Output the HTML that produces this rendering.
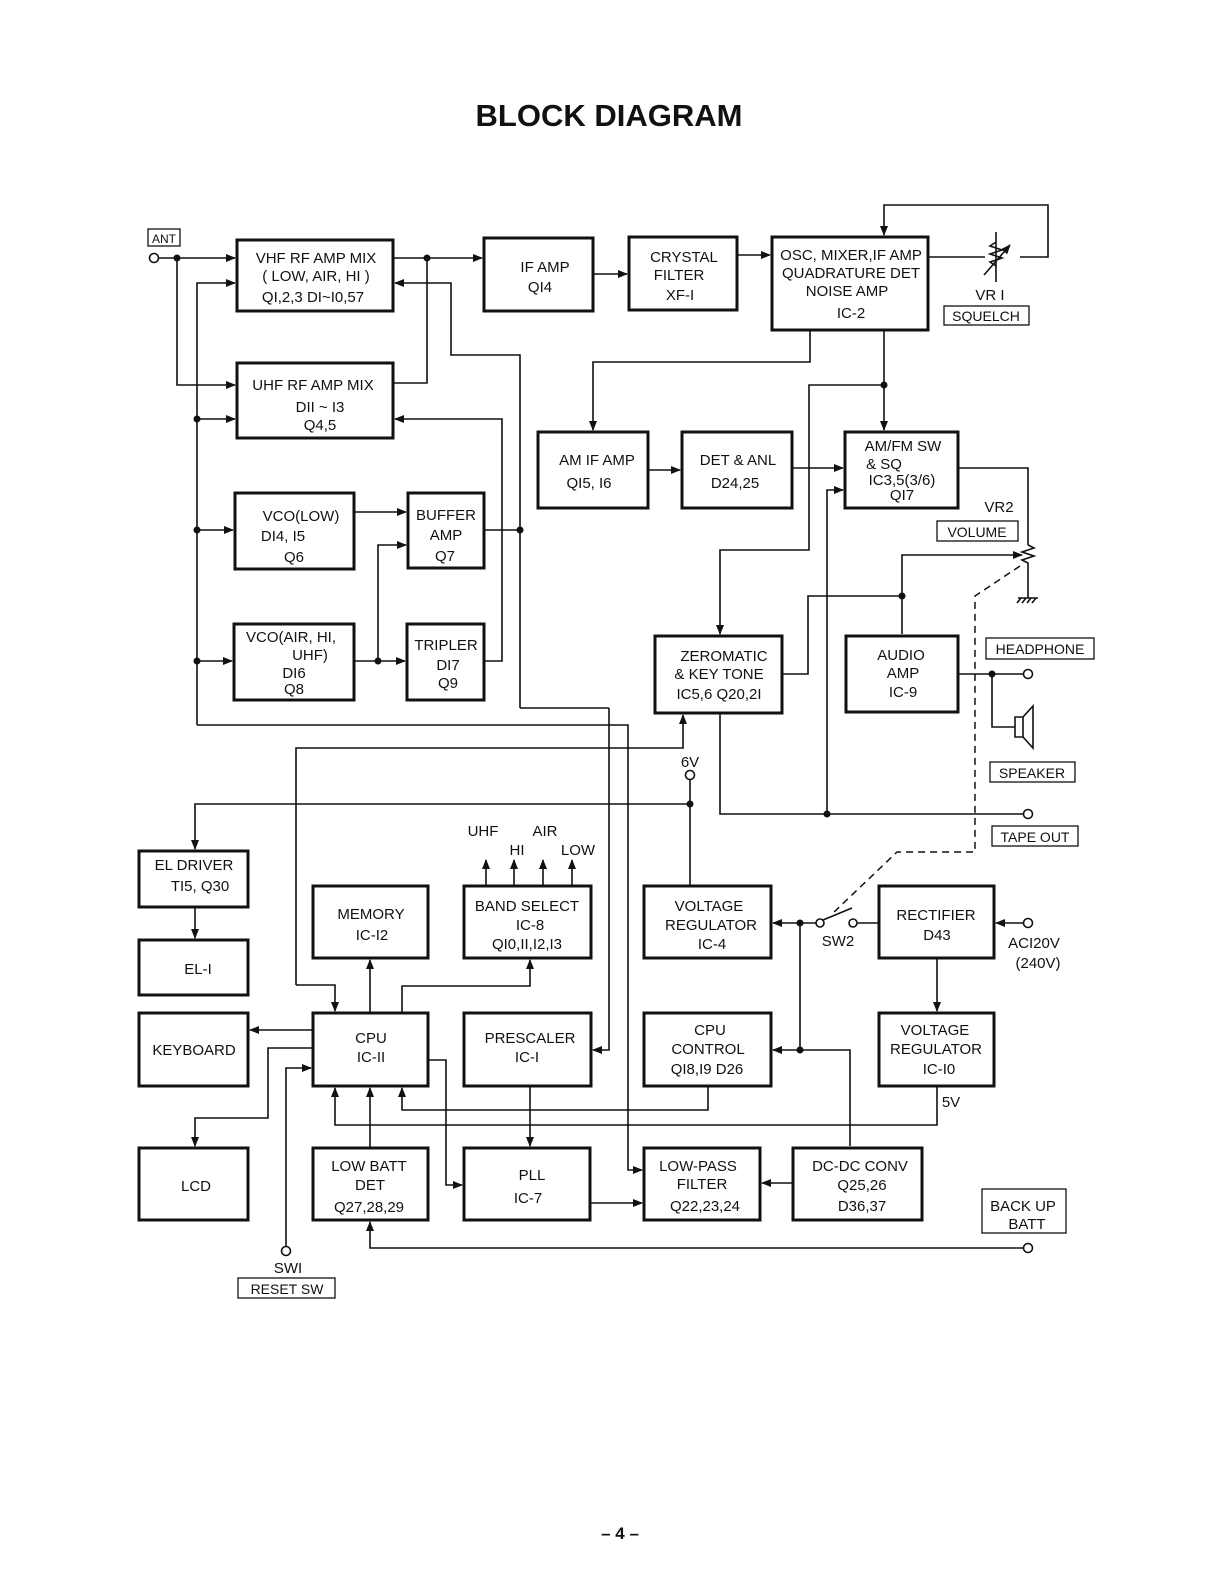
<!DOCTYPE html>
<html><head><meta charset="utf-8"><style>
html,body{margin:0;padding:0;background:#fff;width:1224px;height:1584px;overflow:hidden}
svg{display:block;position:absolute;left:0;top:0}
text{font-family:"Liberation Sans",sans-serif;font-size:15px;fill:#111;text-anchor:middle}
.b{fill:none;stroke:#111;stroke-width:3}
.l{fill:none;stroke:#111;stroke-width:1.6}
.t{fill:none;stroke:#111;stroke-width:1.3}
.d{fill:none;stroke:#111;stroke-width:1.5;stroke-dasharray:7 5}
</style></head><body>
<svg width="1224" height="1584" viewBox="0 0 1224 1584" xmlns="http://www.w3.org/2000/svg">
<defs><marker id="a" markerWidth="10" markerHeight="8" refX="9" refY="4" orient="auto" markerUnits="userSpaceOnUse"><path d="M0,0 L10,4 L0,8z" fill="#111"/></marker></defs>
<text x="609" y="126" style="font-size:31px;font-weight:bold">BLOCK DIAGRAM</text>

<g class="b">
<rect x="237" y="240" width="156" height="71"/>
<rect x="484" y="238" width="109" height="73"/>
<rect x="629" y="237" width="108" height="73"/>
<rect x="772" y="237" width="156" height="93"/>
<rect x="237" y="363" width="156" height="75"/>
<rect x="538" y="432" width="110" height="76"/>
<rect x="682" y="432" width="110" height="76"/>
<rect x="845" y="432" width="113" height="76"/>
<rect x="235" y="493" width="119" height="76"/>
<rect x="408" y="493" width="76" height="75"/>
<rect x="234" y="624" width="120" height="76"/>
<rect x="407" y="624" width="77" height="76"/>
<rect x="655" y="636" width="127" height="77"/>
<rect x="846" y="636" width="112" height="76"/>
<rect x="139" y="851" width="109" height="56"/>
<rect x="313" y="886" width="115" height="72"/>
<rect x="464" y="886" width="127" height="72"/>
<rect x="644" y="886" width="127" height="72"/>
<rect x="879" y="886" width="115" height="72"/>
<rect x="139" y="940" width="109" height="55"/>
<rect x="139" y="1013" width="109" height="73"/>
<rect x="313" y="1013" width="115" height="73"/>
<rect x="464" y="1013" width="127" height="73"/>
<rect x="644" y="1013" width="127" height="73"/>
<rect x="879" y="1013" width="115" height="73"/>
<rect x="139" y="1148" width="109" height="72"/>
<rect x="313" y="1148" width="115" height="72"/>
<rect x="464" y="1148" width="126" height="72"/>
<rect x="644" y="1148" width="116" height="72"/>
<rect x="793" y="1148" width="129" height="72"/>
</g>
<g class="t">
<rect x="148" y="229" width="32" height="17"/>
<rect x="944" y="306" width="85" height="19"/>
<rect x="937" y="521" width="81" height="20"/>
<rect x="986" y="638" width="108" height="21"/>
<rect x="990" y="762" width="85" height="20"/>
<rect x="992" y="826" width="86" height="20"/>
<rect x="982" y="1189" width="84" height="44"/>
<rect x="238" y="1278" width="97" height="20"/>
</g>

<text x="316" y="263">VHF RF AMP MIX</text><text x="316" y="281">( LOW, AIR, HI )</text><text x="313" y="302">QI,2,3  DI~I0,57</text>
<text x="545" y="272">IF AMP</text><text x="540" y="292">QI4</text>
<text x="684" y="262">CRYSTAL</text><text x="679" y="280">FILTER</text><text x="680" y="300">XF-I</text>
<text x="851" y="260">OSC, MIXER,IF AMP</text><text x="851" y="278">QUADRATURE DET</text><text x="847" y="296">NOISE   AMP</text><text x="851" y="318">IC-2</text>
<text x="313" y="390">UHF RF AMP MIX</text><text x="320" y="412">DII ~ I3</text><text x="320" y="430">Q4,5</text>
<text x="597" y="465">AM IF AMP</text><text x="589" y="488">QI5, I6</text>
<text x="738" y="465">DET &amp; ANL</text><text x="735" y="488">D24,25</text>
<text x="903" y="451">AM/FM SW</text><text x="884" y="469">&amp; SQ</text><text x="902" y="485">IC3,5(3/6)</text><text x="902" y="500">QI7</text>
<text x="301" y="521">VCO(LOW)</text><text x="283" y="541">DI4, I5</text><text x="294" y="562">Q6</text>
<text x="446" y="520">BUFFER</text><text x="446" y="540">AMP</text><text x="445" y="561">Q7</text>
<text x="291" y="642">VCO(AIR, HI,</text><text x="310" y="660">UHF)</text><text x="294" y="678">DI6</text><text x="294" y="694">Q8</text>
<text x="446" y="650">TRIPLER</text><text x="448" y="670">DI7</text><text x="448" y="688">Q9</text>
<text x="724" y="661">ZEROMATIC</text><text x="719" y="679">&amp; KEY  TONE</text><text x="719" y="699">IC5,6  Q20,2I</text>
<text x="901" y="660">AUDIO</text><text x="903" y="678">AMP</text><text x="903" y="697">IC-9</text>
<text x="990" y="300">VR I</text><text x="986" y="321" style="font-size:14px">SQUELCH</text>
<text x="999" y="512">VR2</text><text x="977" y="537" style="font-size:14px">VOLUME</text>
<text x="1040" y="654" style="font-size:14px">HEADPHONE</text>
<text x="1032" y="778" style="font-size:14px">SPEAKER</text>
<text x="1035" y="842" style="font-size:14px">TAPE OUT</text>
<text x="164" y="243" style="font-size:12px">ANT</text>
<text x="690" y="767">6V</text>
<text x="483" y="836">UHF</text><text x="545" y="836">AIR</text><text x="517" y="855">HI</text><text x="578" y="855">LOW</text>
<text x="194" y="870">EL  DRIVER</text><text x="200" y="891">TI5, Q30</text>
<text x="198" y="974">EL-I</text>
<text x="194" y="1055">KEYBOARD</text>
<text x="196" y="1191">LCD</text>
<text x="371" y="919">MEMORY</text><text x="372" y="940">IC-I2</text>
<text x="527" y="911">BAND SELECT</text><text x="530" y="930">IC-8</text><text x="527" y="949">QI0,II,I2,I3</text>
<text x="709" y="911">VOLTAGE</text><text x="711" y="930">REGULATOR</text><text x="712" y="949">IC-4</text>
<text x="936" y="920">RECTIFIER</text><text x="937" y="940">D43</text>
<text x="838" y="946">SW2</text>
<text x="1034" y="948">ACI20V</text><text x="1038" y="968">(240V)</text>
<text x="371" y="1043">CPU</text><text x="371" y="1062">IC-II</text>
<text x="530" y="1043">PRESCALER</text><text x="527" y="1062">IC-I</text>
<text x="710" y="1035">CPU</text><text x="708" y="1054">CONTROL</text><text x="707" y="1074">QI8,I9   D26</text>
<text x="935" y="1035">VOLTAGE</text><text x="936" y="1054">REGULATOR</text><text x="939" y="1074">IC-I0</text>
<text x="951" y="1107">5V</text>
<text x="369" y="1171">LOW  BATT</text><text x="370" y="1190">DET</text><text x="369" y="1212">Q27,28,29</text>
<text x="532" y="1180">PLL</text><text x="528" y="1203">IC-7</text>
<text x="698" y="1171">LOW-PASS</text><text x="702" y="1189">FILTER</text><text x="705" y="1211">Q22,23,24</text>
<text x="860" y="1171">DC-DC  CONV</text><text x="862" y="1190">Q25,26</text><text x="862" y="1211">D36,37</text>
<text x="1023" y="1211">BACK UP</text><text x="1027" y="1229">BATT</text>
<text x="288" y="1273">SWI</text><text x="287" y="1294" style="font-size:14px">RESET SW</text>
<text x="620" y="1539" style="font-size:17px;font-weight:bold">– 4 –</text>

<g class="l">
<path d="M158,258H235" marker-end="url(#a)"/>
<path d="M177,258V385H235" marker-end="url(#a)"/>
<path d="M197,725V283H235" marker-end="url(#a)"/>
<path d="M197,419H235" marker-end="url(#a)"/>
<path d="M197,530H233" marker-end="url(#a)"/>
<path d="M197,661H232" marker-end="url(#a)"/>
<path d="M197,725H628V1170H642" marker-end="url(#a)"/>
<path d="M393,258H482" marker-end="url(#a)"/>
<path d="M427,258V383H393"/>
<path d="M609,708V1050H593" marker-end="url(#a)"/>
<path d="M520,708H609"/>
<path d="M520,708V355H451V283H395" marker-end="url(#a)"/>
<path d="M484,530H520"/>
<path d="M484,661H502V419H395" marker-end="url(#a)"/>
<path d="M354,512H406" marker-end="url(#a)"/>
<path d="M354,661H405" marker-end="url(#a)"/>
<path d="M378,661V545H406" marker-end="url(#a)"/>
<path d="M593,274H627" marker-end="url(#a)"/>
<path d="M737,255H770" marker-end="url(#a)"/>
<path d="M1020,257H1048V205H884V235" marker-end="url(#a)"/>
<path d="M928,257H985"/>
<path d="M996,232V282"/>
<path d="M996,242l-6,4l12,4l-12,4l12,4l-12,4l6,4"/>
<path d="M984,275L1010,245" marker-end="url(#a)"/>
<path d="M810,330V362H593V430" marker-end="url(#a)"/>
<path d="M884,330V430" marker-end="url(#a)"/>
<path d="M884,385H809V550H720V634" marker-end="url(#a)"/>
<path d="M648,470H680" marker-end="url(#a)"/>
<path d="M792,468H843" marker-end="url(#a)"/>
<path d="M827,814V490H843" marker-end="url(#a)"/>
<path d="M720,713V814H1024"/>
<path d="M958,468H1028V545"/>
<path d="M1028,545l6,3l-12,4l12,4l-12,4l6,3V598"/>
<path d="M1018,598h20M1021,598l-4,5M1026,598l-4,5M1031,598l-4,5M1036,598l-4,5"/>
<path d="M902,634V555H1022" marker-end="url(#a)"/>
<path d="M902,596H808V674H782"/>
<path d="M958,674H1024"/>
<path d="M992,674V727H1015"/>
<path d="M1015,717h8v20h-8z"/>
<path d="M1023,717l10,-11v42l-10,-11"/>
<path d="M690,780V886"/>
<path d="M690,804H195V849" marker-end="url(#a)"/>
<path d="M296,985V748H683V715" marker-end="url(#a)"/>
<path d="M296,985H335V1011" marker-end="url(#a)"/>
<path d="M195,907V938" marker-end="url(#a)"/>
<path d="M313,1030H250" marker-end="url(#a)"/>
<path d="M313,1048H268V1118H195V1146" marker-end="url(#a)"/>
<path d="M286,1247V1068H311" marker-end="url(#a)"/>
<path d="M370,1013V960" marker-end="url(#a)"/>
<path d="M402,1013V986H530V960" marker-end="url(#a)"/>
<path d="M486,886V860" marker-end="url(#a)"/>
<path d="M514,886V860" marker-end="url(#a)"/>
<path d="M543,886V860" marker-end="url(#a)"/>
<path d="M572,886V860" marker-end="url(#a)"/>
<path d="M428,1060H446V1185H462" marker-end="url(#a)"/>
<path d="M530,1086V1146" marker-end="url(#a)"/>
<path d="M590,1203H642" marker-end="url(#a)"/>
<path d="M793,1183H762" marker-end="url(#a)"/>
<path d="M708,1086V1110H402V1088" marker-end="url(#a)"/>
<path d="M937,1086V1125H335V1088" marker-end="url(#a)"/>
<path d="M370,1148V1088" marker-end="url(#a)"/>
<path d="M1024,1248H370V1222" marker-end="url(#a)"/>
<path d="M816,923H773" marker-end="url(#a)"/>
<path d="M800,923V1050"/>
<path d="M850,1146V1050H773" marker-end="url(#a)"/>
<path d="M823,920L852,908"/>
<path d="M857,923H879"/>
<path d="M1024,923H996" marker-end="url(#a)"/>
<path d="M937,958V1011" marker-end="url(#a)"/>
</g>
<path class="d" d="M1020,566L975,596V852H897L832,914"/>
<g fill="#111">
<circle cx="177" cy="258" r="3.5"/><circle cx="197" cy="419" r="3.5"/><circle cx="197" cy="530" r="3.5"/><circle cx="197" cy="661" r="3.5"/>
<circle cx="427" cy="258" r="3.5"/><circle cx="520" cy="530" r="3.5"/><circle cx="378" cy="661" r="3.5"/>
<circle cx="884" cy="385" r="3.5"/><circle cx="902" cy="596" r="3.5"/><circle cx="992" cy="674" r="3.5"/>
<circle cx="827" cy="814" r="3.5"/><circle cx="690" cy="804" r="3.5"/><circle cx="800" cy="923" r="3.5"/><circle cx="800" cy="1050" r="3.5"/>
</g>
<g fill="#fff" stroke="#111" stroke-width="1.6">
<circle cx="154" cy="258" r="4.5"/><circle cx="1028" cy="674" r="4.5"/><circle cx="1028" cy="814" r="4.5"/>
<circle cx="690" cy="775" r="4.5"/><circle cx="820" cy="923" r="4"/><circle cx="853" cy="923" r="4"/>
<circle cx="1028" cy="923" r="4.5"/><circle cx="1028" cy="1248" r="4.5"/><circle cx="286" cy="1251" r="4.5"/>
</g>
</svg>
</body></html>
